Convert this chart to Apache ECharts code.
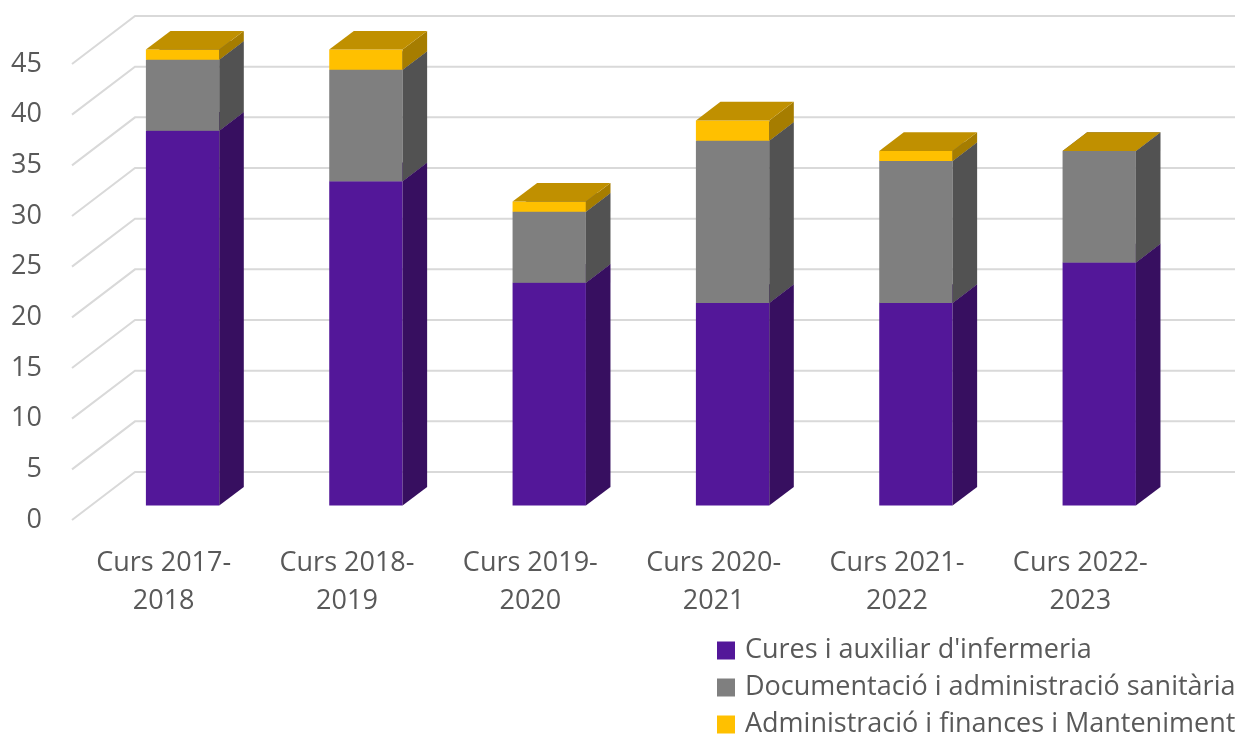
<!DOCTYPE html>
<html>
<head>
<meta charset="utf-8">
<script src="https://cdn.jsdelivr.net/npm/echarts@6/dist/echarts.min.js"></script>
<style>
  html, body { margin: 0; padding: 0; background: #fff; }
  #main { width: 1254px; height: 736px; }
</style>
</head>
<body>
<div id="main"></div>
<script>
// dades del grafic
const categories = ['Curs 2017-2018', 'Curs 2018-2019', 'Curs 2019-2020', 'Curs 2020-2021', 'Curs 2021-2022', 'Curs 2022-2023'];
const cures = [37, 32, 22, 20, 20, 24];
const documentacio = [7, 11, 7, 16, 14, 11];
const administracio = [1, 2, 1, 2, 1, 0];
const yTicks = [0, 5, 10, 15, 20, 25, 30, 35, 40, 45];
const seriesNames = ["Cures i auxiliar d'infermeria", 'Documentació i administració sanitària', 'Administració i finances i Manteniment'];

// profunditat 3D (projeccio obliqua)
const DX = 63, DY = -48;
const FRONT = 0.3, BACK = 0.69;
const FONT = "'Open Sans', sans-serif";
const FS = 27;

const chart = echarts.init(document.getElementById('main'));

function sumArr(a, b) {
  return a.map((v, i) => v + b[i]);
}
const base0 = cures.map(() => 0);
const base1 = cures.slice();
const base2 = sumArr(cures, documentacio);

function barRender(values, bases, colors, keepZero) {
  return function (params, api) {
    const i = params.dataIndex;
    const v = values[i];
    if (!v && !keepZero) return;
    const b = bases[i];
    const pb = api.coord([i, b]);
    const pt = api.coord([i, b + v]);
    const w = api.size([1, 0])[0] * 0.4;
    const x0 = pb[0] - w / 2 + DX * FRONT;
    const x1 = x0 + w;
    const yb = pb[1] + DY * FRONT;
    const yt = pt[1] + DY * FRONT;
    const ddx = DX * (BACK - FRONT), ddy = DY * (BACK - FRONT);
    return {
      type: 'group',
      children: [
        { type: 'polygon', shape: { points: [[x0, yt], [x1, yt], [x1, yb], [x0, yb]] }, style: { fill: colors[0] } },
        { type: 'polygon', shape: { points: [[x1, yt], [x1 + ddx, yt + ddy], [x1 + ddx, yb + ddy], [x1, yb]] }, style: { fill: colors[1] } },
        { type: 'polygon', shape: { points: [[x0, yt], [x1, yt], [x1 + ddx, yt + ddy], [x0 + ddx, yt + ddy]] }, style: { fill: colors[2] } }
      ]
    };
  };
}

// linies de quadricula: paret lateral + paret del fons
function gridRender(params, api) {
  const cs = params.coordSys;
  const y = api.coord([0, yTicks[params.dataIndex]])[1];
  return {
    type: 'polyline',
    shape: { points: [[cs.x, y], [cs.x + DX, y + DY], [cs.x + cs.width + DX, y + DY]] },
    style: { stroke: '#d9d9d9', lineWidth: 2, fill: null }
  };
}

var option = {
  animation: false,
  grid: { left: 72, right: 82, top: 64, bottom: 216 },
  legend: {
    orient: 'vertical',
    left: 712,
    top: 632,
    height: 200,
    itemWidth: 18,
    itemHeight: 18,
    itemGap: 10,
    icon: 'rect',
    data: seriesNames,
    textStyle: { fontSize: FS, color: '#595959', fontFamily: FONT, padding: [0, 0, 0, 5] }
  },
  xAxis: {
    type: 'category',
    data: categories,
    axisLine: { show: false },
    axisTick: { show: false },
    axisLabel: {
      fontSize: FS,
      color: '#595959',
      fontFamily: FONT,
      margin: 24,
      lineHeight: 38,
      formatter: function (v) { return v.replace('-', '-\n'); }
    }
  },
  yAxis: {
    type: 'value',
    min: 0,
    max: 45,
    interval: 5,
    axisLine: { show: false },
    axisTick: { show: false },
    splitLine: { show: false },
    axisLabel: { fontSize: FS, color: '#595959', fontFamily: FONT, margin: 30 }
  },
  series: [
    {
      name: 'grid',
      type: 'custom',
      renderItem: gridRender,
      data: yTicks.map(t => [0, t]),
      silent: true,
      z: 1
    },
    {
      name: seriesNames[0],
      type: 'custom',
      itemStyle: { color: '#531799' },
      renderItem: barRender(cures, base0, ['#531799', '#370f60', '#42127a'], false),
      data: cures.map((v, i) => [i, v]),
      z: 2
    },
    {
      name: seriesNames[1],
      type: 'custom',
      itemStyle: { color: '#7f7f7f' },
      renderItem: barRender(documentacio, base1, ['#7f7f7f', '#525252', '#666666'], false),
      data: documentacio.map((v, i) => [i, v]),
      z: 3
    },
    {
      name: seriesNames[2],
      type: 'custom',
      itemStyle: { color: '#ffc000' },
      renderItem: barRender(administracio, base2, ['#ffc000', '#a67d00', '#c09000'], true),
      data: administracio.map((v, i) => [i, v]),
      z: 4
    }
  ]
};

chart.setOption(option);
</script>
</body>
</html>
